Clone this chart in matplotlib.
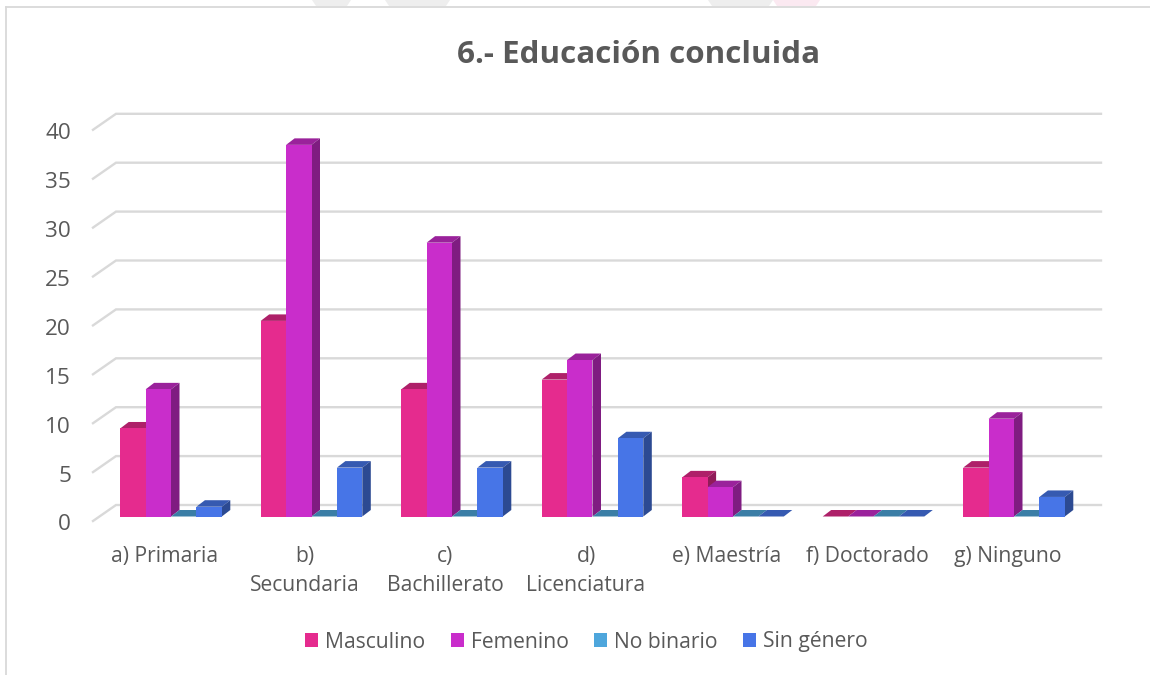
import matplotlib
matplotlib.use("Agg")
import matplotlib.pyplot as plt
from matplotlib.patches import Polygon, Rectangle
from matplotlib.lines import Line2D
from matplotlib.transforms import ScaledTranslation
import numpy as np

plt.rcParams['font.family'] = ['Open Sans', 'DejaVu Sans']

categories = ["a) Primaria", "b)\nSecundaria", "c)\nBachillerato", "d)\nLicenciatura",
              "e) Maestría", "f) Doctorado", "g) Ninguno"]
series_names = ["Masculino", "Femenino", "No binario", "Sin género"]
masculino = [9, 20, 13, 14, 4, 0, 5]
femenino = [13, 38, 28, 16, 3, 0, 10]
no_binario = [0, 0, 0, 0, 0, 0, 0]
sin_genero = [1, 5, 5, 8, 0, 0, 2]
series = [masculino, femenino, no_binario, sin_genero]
y_ticks = [0, 5, 10, 15, 20, 25, 30, 35, 40]

front = ["#E52B8E", "#C92DCB", "#4EA6DC", "#4775E7"]
top = ["#AE2069", "#9A229B", "#3B7EA6", "#365AB1"]
side = ["#901B58", "#7F1C81", "#316988", "#2C4A92"]
GREY = "#595959"

W, H = 1150, 675
fig = plt.figure(figsize=(W / 100, H / 100), dpi=100, facecolor="white")

# axes box in pixels; data scale: 140.5 px per category, 9.78 px per unit
L, R, T, B = 93, 1101, 100, 530
ax = fig.add_axes([L / W, 1 - B / H, (R - L) / W, (B - T) / H])
cx0, step, upx = 171.0, 140.5, 9.78
y0 = 516.5
ax.set_xlim((L - cx0) / step, (R - cx0) / step)
ax.set_ylim((y0 - B) / upx, (y0 - T) / upx)
for s in ax.spines.values():
    s.set_visible(False)
ax.patch.set_alpha(0)

px = 1 / step   # one pixel in x data units
py = 1 / upx    # one pixel in y data units

# watermark traces at the top edge and chart frame
def trace(x0, x1, color):
    fig.add_artist(Polygon([[x0 / W, 1], [x1 / W, 1], [(x1 - 4) / W, 1 - 6 / H], [(x0 + 4) / W, 1 - 6 / H]],
                           closed=True, transform=fig.transFigure, fc=color, ec="none", zorder=-5))
trace(312, 351, "#EEEEEE")
trace(385, 450, "#EEEEEE")
trace(708, 773, "#EEEEEE")
trace(773, 820, "#FBE9F1")
fig.add_artist(Line2D([6 / W, 1], [1 - 7 / H, 1 - 7 / H], color="#D9D9D9", lw=1.3))
fig.add_artist(Line2D([6 / W, 6 / W], [1 - 7 / H, 0], color="#D9D9D9", lw=1.3))

# wall gridlines
wall_x0, wall_x1 = ax.get_xlim()
for v in y_ticks:
    yb = v + (y0 - 505) * py
    yf = v + (y0 - 521) * py
    ax.plot([wall_x0, wall_x0 + 23 * px, wall_x1], [yf, yb, yb], color="#D9D9D9", lw=1.7,
            solid_joinstyle="miter", zorder=1, clip_on=False)

# bars
bw = 25.4 * px
dx, dy = 8.5 * px, 6.5 * py
for k, vals in enumerate(series):
    xs = np.arange(len(categories)) - 2 * bw + k * bw + bw / 2
    ax.bar(xs, vals, width=bw, color=front[k], linewidth=0, zorder=3 + 2 * k)
    for x, v in zip(xs, vals):
        xl, xr = x - bw / 2, x + bw / 2
        ax.add_patch(Polygon([[xl, v], [xr, v], [xr + dx, v + dy], [xl + dx, v + dy]],
                             closed=True, fc=top[k], ec="none", zorder=2.5 + 2 * k))
        ax.add_patch(Polygon([[xr, 0], [xr + dx, dy], [xr + dx, v + dy], [xr, v]],
                             closed=True, fc=side[k], ec="none", zorder=2.5 + 2 * k))

# ticks
ax.set_yticks(y_ticks)
ax.set_yticklabels([str(v) for v in y_ticks], fontsize=16.2, color=GREY)
ax.tick_params(axis="y", length=0, pad=15.8)
offset = ScaledTranslation(0, -6 / 100, fig.dpi_scale_trans)
for lab in ax.get_yticklabels():
    lab.set_transform(lab.get_transform() + offset)

ax.set_xticks(np.arange(len(categories)))
ax.set_xticklabels(categories, fontsize=15.2, color=GREY, linespacing=1.5, va="top")
ax.tick_params(axis="x", length=0, pad=11.3)
xoff = ScaledTranslation(-6.5 / 100, 0, fig.dpi_scale_trans)
for lab in ax.get_xticklabels():
    lab.set_transform(lab.get_transform() + xoff)

fig.text(638.5 / W, 1 - 55 / H, "6.- Educación concluida", fontsize=22.6, fontweight="bold",
         color=GREY, ha="center", va="center")

handles = [Rectangle((0, 0), 1, 1, fc=c, ec="none") for c in front]
fig.legend(handles, series_names, loc="center", bbox_to_anchor=(586.5 / W, 1 - 642 / H), ncol=4,
           frameon=False, fontsize=15.2, labelcolor=GREY, handlelength=0.62, handleheight=0.62,
           handletextpad=0.33, columnspacing=1.2, borderpad=0)

fig.savefig("out.png", dpi=100)
